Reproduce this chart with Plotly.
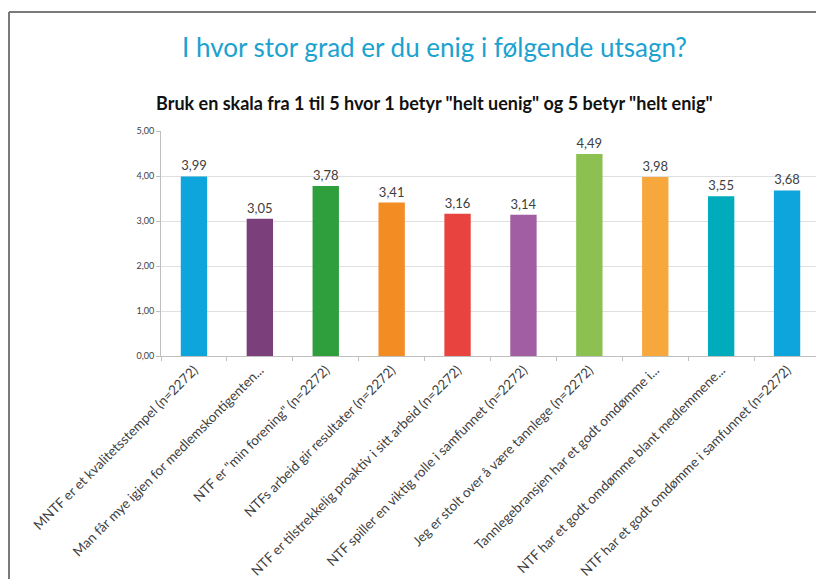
import plotly.graph_objects as go

categories = [
    "MNTF er et kvalitetsstempel (n=2272)",
    "Man får mye igjen for medlemskontigenten...",
    "NTF er \"min forening\" (n=2272)",
    "NTFs arbeid gir resultater (n=2272)",
    "NTF er tilstrekkelig proaktiv i sitt arbeid (n=2272)",
    "NTF spiller en viktig rolle i samfunnet (n=2272)",
    "Jeg er stolt over å være tannlege (n=2272)",
    "Tannlegebransjen har et godt omdømme i...",
    "NTF har et godt omdømme blant medlemmene...",
    "NTF har et godt omdømme i samfunnet (n=2272)",
]
values = [3.99, 3.05, 3.78, 3.41, 3.16, 3.14, 4.49, 3.98, 3.55, 3.68]
colors = ["#0ea5dc", "#7b3f7c", "#2f9e3c", "#f28c23", "#e8433f",
          "#a25ea3", "#8cc152", "#f7a83c", "#00acbc", "#0ea5dc"]
y_ticks = [0, 1, 2, 3, 4, 5]

title_text = "I hvor stor grad er du enig i følgende utsagn?"
subtitle_text = "Bruk en skala fra 1 til 5 hvor 1 betyr \"helt uenig\" og 5 betyr \"helt enig\""

OFF = 8  # page body margin
W, H = 824, 579
# desired plot box in screenshot pixels
PX0, PX1, PY0, PY1 = 161, 820, 131, 356
L = PX0 - OFF
T = PY0 - OFF
R = W - (PX1 - OFF)
B = H - (PY1 - OFF)

FONT = "Lato, Open Sans, sans-serif"

fig = go.Figure(go.Bar(
    x=categories, y=values,
    marker=dict(color=colors, line=dict(width=0)),
    width=0.4,
    texttemplate="%{y:.2f}",
    textposition="outside",
    textfont=dict(family=FONT, size=13, color="#404040"),
    cliponaxis=False,
))

def px_x(x):
    return (x - PX0) / (PX1 - PX0)

def px_y(y):
    return (PY1 - y) / (PY1 - PY0)

fig.update_layout(
    width=W, height=H,
    margin=dict(l=L, r=R, t=T, b=B, autoexpand=False),
    paper_bgcolor="white", plot_bgcolor="white",
    separators=", ",
    showlegend=False,
    font=dict(family=FONT, color="#404040"),
    xaxis=dict(
        tickangle=-45, automargin=False,
        tickfont=dict(size=13.5, color="#404040"),
        showline=True, linecolor="#bfbfbf", linewidth=1,
        ticks="outside", ticklen=4, tickcolor="#bfbfbf",
        tickson="boundaries", showgrid=False,
    ),
    yaxis=dict(
        range=[0, 5], tickvals=y_ticks, tickformat=".2f",
        tickfont=dict(size=9, color="#404040"),
        showline=True, linecolor="#bfbfbf", linewidth=1,
        ticks="outside", ticklen=4, tickcolor="#bfbfbf",
        showgrid=True, gridcolor="#e0e0e0", gridwidth=1,
        zeroline=False, automargin=False,
    ),
    annotations=[
        dict(text=title_text, xref="paper", yref="paper",
             x=px_x(434), y=px_y(47), xanchor="center", yanchor="middle",
             showarrow=False, font=dict(size=26, color="#1ba2d0", family=FONT)),
        dict(text="<b>" + subtitle_text + "</b>", xref="paper", yref="paper",
             x=px_x(434), y=px_y(103), xanchor="center", yanchor="middle",
             showarrow=False, font=dict(size=18, color="#111111", family=FONT)),
    ],
    shapes=[
        dict(type="line", xref="paper", yref="paper",
             x0=px_x(9), x1=px_x(840), y0=px_y(12), y1=px_y(12),
             line=dict(color="#7a7a7a", width=2)),
        dict(type="line", xref="paper", yref="paper",
             x0=px_x(9), x1=px_x(9), y0=px_y(12), y1=px_y(600),
             line=dict(color="#7a7a7a", width=2)),
    ],
)

fig.write_html("out.html")
